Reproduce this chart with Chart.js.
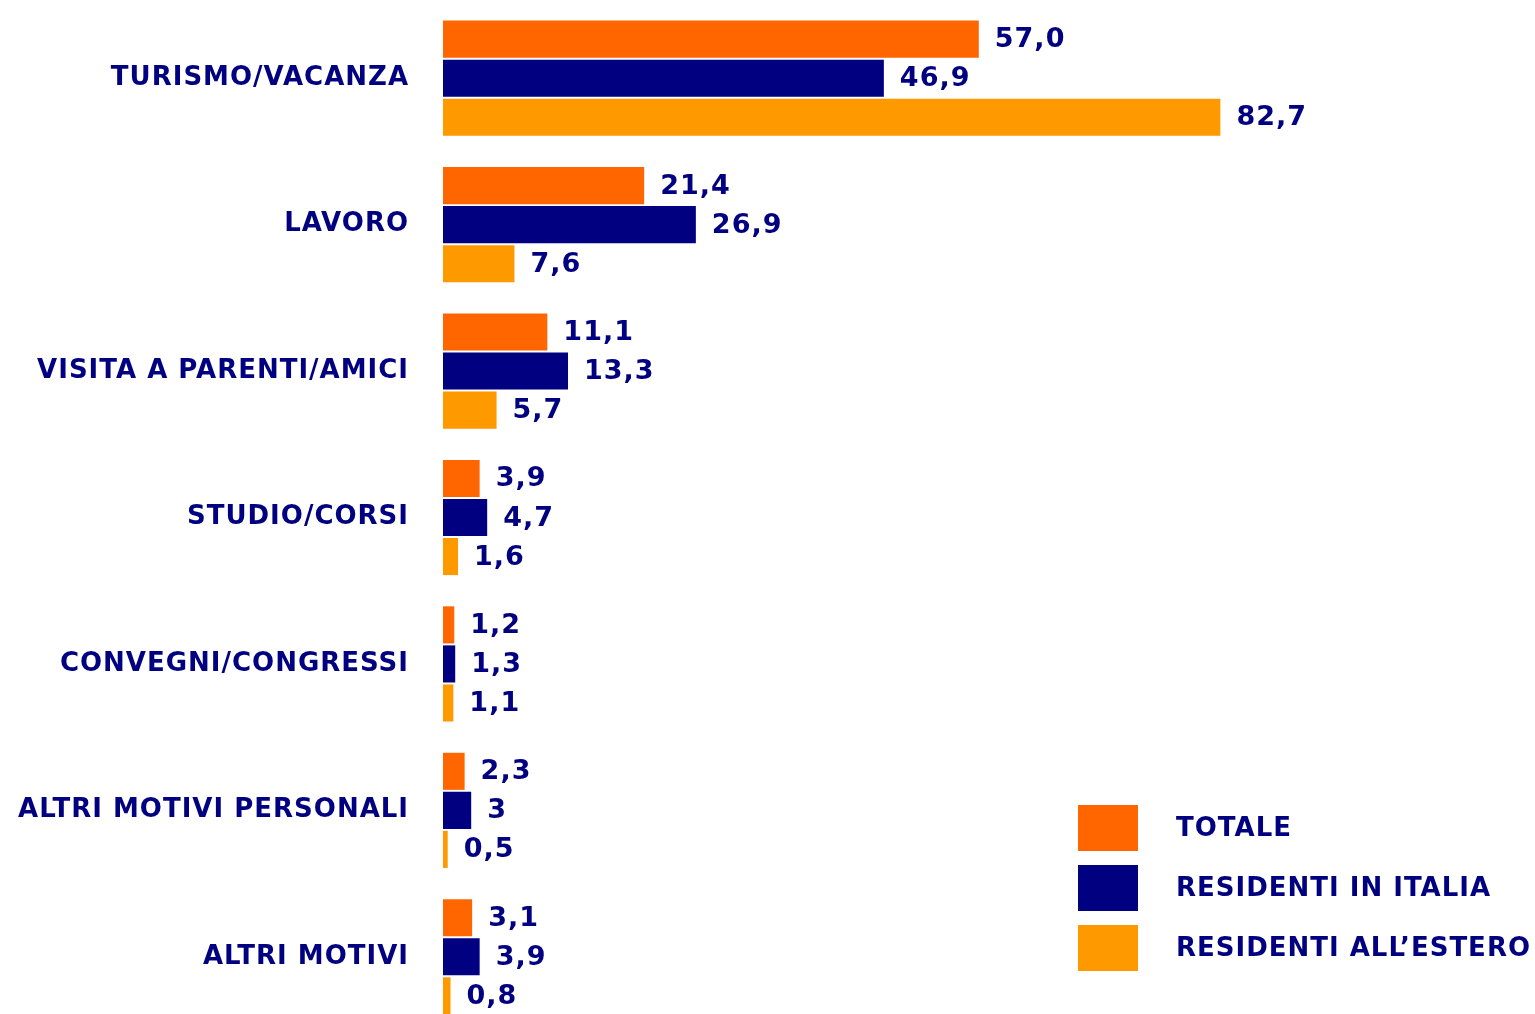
<!DOCTYPE html>
<html>
<head>
<meta charset="utf-8">
<script src="https://cdn.jsdelivr.net/npm/chart.js@4"></script>
<style>
  html, body { margin: 0; padding: 0; background: #fff; overflow: hidden; }
</style>
</head>
<body>
<canvas id="myChart" width="1535" height="1040"></canvas>
<script>
const categories = ['TURISMO/VACANZA', 'LAVORO', 'VISITA A PARENTI/AMICI', 'STUDIO/CORSI',
  'CONVEGNI/CONGRESSI', 'ALTRI MOTIVI PERSONALI', 'ALTRI MOTIVI'];
// valori come scritti nella tabella originale (percentuali)
const totale = ['57.0', '21.4', '11.1', '3.9', '1.2', '2.3', '3.1'];
const residentiItalia = ['46.9', '26.9', '13.3', '4.7', '1.3', '3', '3.9'];
const residentiEstero = ['82.7', '7.6', '5.7', '1.6', '1.1', '0.5', '0.8'];
const seriesNames = ['TOTALE', 'RESIDENTI IN ITALIA', 'RESIDENTI ALL\u2019ESTERO'];
const colors = ['#FF6600', '#000080', '#FF9900'];

const navy = '#000080';
const fontFamily = '"DejaVu Sans", Verdana, sans-serif';

// spaziatura lettere per tutto il testo del canvas
const spacingPlugin = {
  id: 'spaziatura',
  beforeDraw(chart) { chart.ctx.letterSpacing = '1px'; },
  afterDraw(chart) { chart.ctx.letterSpacing = '0px'; }
};

// etichette dei valori + legenda disegnate a mano
const labelsPlugin = {
  id: 'valori',
  afterDatasetsDraw(chart) {
    const ctx = chart.ctx;
    ctx.save();
    ctx.letterSpacing = '1px';
    ctx.fillStyle = navy;
    ctx.font = 'bold 27px ' + fontFamily;
    ctx.textBaseline = 'middle';
    ctx.textAlign = 'left';
    chart.data.datasets.forEach((ds, i) => {
      chart.getDatasetMeta(i).data.forEach((bar, j) => {
        const txt = String(ds.data[j]).replace('.', ',');
        ctx.fillText(txt, bar.x + 16, bar.y + 1);
      });
    });
    // legenda
    ctx.font = 'bold 26px ' + fontFamily;
    const lx = 1078, ly = 805;
    chart.data.datasets.forEach((ds, i) => {
      const y = ly + i * 60;
      ctx.fillStyle = ds.backgroundColor;
      ctx.fillRect(lx, y, 60, 46);
      ctx.fillStyle = navy;
      ctx.fillText(ds.label, 1176, y + 24);
    });
    ctx.restore();
  }
};

new Chart(document.getElementById('myChart'), {
  type: 'bar',
  data: {
    labels: categories,
    datasets: seriesNames.map((name, i) => ({
      label: name,
      data: [totale, residentiItalia, residentiEstero][i],
      backgroundColor: colors[i],
      categoryPercentage: 0.8,
      barPercentage: 0.95
    }))
  },
  options: {
    indexAxis: 'y',
    responsive: false,
    animation: false,
    layout: { padding: { top: 5, bottom: 10, left: 0, right: 152 } },
    plugins: { legend: { display: false }, tooltip: { enabled: false } },
    scales: {
      x: { display: false, min: 0, max: 100 },
      y: {
        grid: { display: false, drawTicks: false },
        border: { display: false },
        afterFit(s) {
          s.width = 443;
          s.paddingTop = 0;
          s.paddingBottom = 0;
        },
        ticks: {
          color: navy,
          padding: 34,
          font: { family: fontFamily, size: 26, weight: 'bold' }
        }
      }
    }
  },
  plugins: [spacingPlugin, labelsPlugin]
});
</script>
</body>
</html>
